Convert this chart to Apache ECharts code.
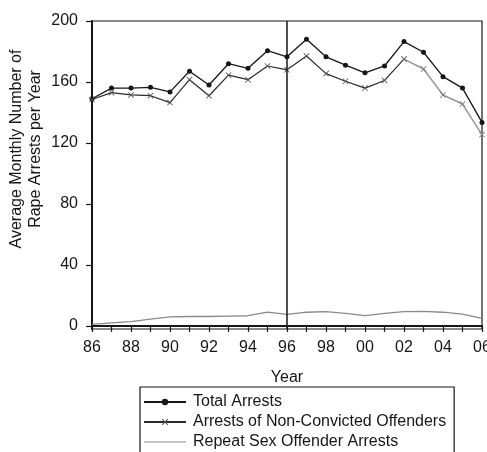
<!DOCTYPE html>
<html>
<head>
<meta charset="utf-8">
<script src="https://cdn.jsdelivr.net/npm/echarts@6/dist/echarts.min.js"></script>
<style>
  html, body { margin: 0; padding: 0; background: #fff; overflow: hidden; }
  #chart { width: 487px; height: 452px; }
</style>
</head>
<body>
<div id="chart"></div>
<script>
// Annual averages of monthly rape arrests, 1986-2006
const years = [1986, 1987, 1988, 1989, 1990, 1991, 1992, 1993, 1994, 1995, 1996,
               1997, 1998, 1999, 2000, 2001, 2002, 2003, 2004, 2005, 2006];
const totalArrests = [149, 156, 156, 156.5, 153.5, 167, 158, 172, 169, 180.5, 176.5,
                      188, 176.5, 171, 166, 170.5, 186.5, 179.5, 163.5, 156, 133.5];
const nonConvicted = [148.5, 153, 151.5, 151, 146.5, 161.5, 151, 164.5, 161.5, 170.5, 168,
                      177, 165.5, 160.5, 156, 161, 175, 168.5, 151.5, 145.5, 125.5];
const repeatOffender = [1, 2, 2.8, 4.5, 6, 6.2, 6.2, 6.5, 6.7, 9, 7.6,
                        9, 9.4, 8.3, 6.8, 8.3, 9.4, 9.6, 9, 7.8, 5];
const yTicks = [0, 40, 80, 120, 160, 200];
const seriesNames = ['Total Arrests', 'Arrests of Non-Convicted Offenders', 'Repeat Sex Offender Arrests'];
const splitYear = 1996;
const fadeFromYear = 2002;   // later non-convicted values printed lighter

const pairs = (ys) => years.map((y, i) => [y, ys[i]]);
const fadeIdx = years.indexOf(fadeFromYear);
const font = '"Liberation Sans", Arial, sans-serif';
const ink = '#161616';
const crossPath = 'path://M0,1L1,0L5,4L9,0L10,1L6,5L10,9L9,10L5,6L1,10L0,9L4,5Z';
const plainLine = 'path://M0,4.4L42,4.4L42,5.6L0,5.6Z';

const chart = echarts.init(document.getElementById('chart'));
chart.setOption({
  animation: false,
  backgroundColor: '#fff',
  textStyle: { fontFamily: font, color: ink },
  grid: {
    left: 92, right: 5, top: 21, bottom: 123,
    outerBoundsMode: 'none',
    show: true, borderColor: ink, borderWidth: 1.2
  },
  xAxis: {
    type: 'value', min: 1986, max: 2006, interval: 1,
    name: 'Year', nameLocation: 'middle', nameGap: 41, nameMoveOverlap: false,
    nameTextStyle: { fontFamily: font, fontSize: 16, color: ink },
    axisLine: { show: true, lineStyle: { color: ink, width: 2 } },
    axisTick: { show: true, length: 6, lineStyle: { color: ink, width: 1.2 } },
    axisLabel: {
      fontFamily: font, fontSize: 16, color: ink, margin: 11,
      showMaxLabel: true, hideOverlap: false,
      formatter: (v) => (v % 2 === 0 ? String(v % 100).padStart(2, '0') : '')
    },
    splitLine: { show: false }
  },
  yAxis: {
    // baseline sits a little above the frame's bottom edge
    type: 'value', min: -2, max: 200,
    name: 'Average Monthly Number of\nRape Arrests per Year',
    nameLocation: 'middle', nameGap: 47, nameRotate: 90, nameMoveOverlap: false,
    nameTextStyle: {
      fontFamily: font, fontSize: 16, color: ink, lineHeight: 19,
      padding: [0, 0, 0, 52]
    },
    axisLine: { show: true, lineStyle: { color: ink, width: 2 } },
    axisTick: { show: true, length: 6, customValues: yTicks, lineStyle: { color: ink, width: 1.2 } },
    axisLabel: { fontFamily: font, fontSize: 16, color: ink, margin: 14, customValues: yTicks },
    splitLine: { show: false }
  },
  legend: {
    orient: 'vertical', left: 140, top: 387,
    width: 330, height: 80,
    data: [
      { name: seriesNames[0] },
      { name: seriesNames[1] },
      { name: seriesNames[2], icon: plainLine }
    ],
    itemWidth: 42, itemHeight: 8, itemGap: 4,
    padding: [7, 8, 14, 3],
    borderColor: ink, borderWidth: 1.2,
    textStyle: { fontFamily: font, fontSize: 16, color: ink, padding: [0, 0, 0, 2] }
  },
  series: [
    {
      name: seriesNames[0], type: 'line', data: pairs(totalArrests),
      symbol: 'circle', symbolSize: 5,
      lineStyle: { color: ink, width: 1.3 },
      itemStyle: { color: ink },
      markLine: {
        silent: true, symbol: 'none', label: { show: false },
        lineStyle: { color: ink, width: 1.5, type: 'solid' },
        data: [{ xAxis: splitYear }]
      }
    },
    {
      name: seriesNames[1], type: 'line',
      data: pairs(nonConvicted).slice(0, fadeIdx + 1),
      symbol: crossPath, symbolSize: 6,
      lineStyle: { color: '#2a2a2a', width: 1.2 },
      itemStyle: { color: '#555' }
    },
    {
      // same series, lighter tail
      name: seriesNames[1], type: 'line',
      data: pairs(nonConvicted).slice(fadeIdx),
      symbol: crossPath, symbolSize: 6,
      lineStyle: { color: '#9a9a9a', width: 1.6 },
      itemStyle: { color: '#7a7a7a' }
    },
    {
      name: seriesNames[2], type: 'line', data: pairs(repeatOffender),
      symbol: 'none',
      lineStyle: { color: '#8a8a8a', width: 1.3 },
      itemStyle: { color: '#8a8a8a' }
    }
  ]
});
</script>
</body>
</html>
